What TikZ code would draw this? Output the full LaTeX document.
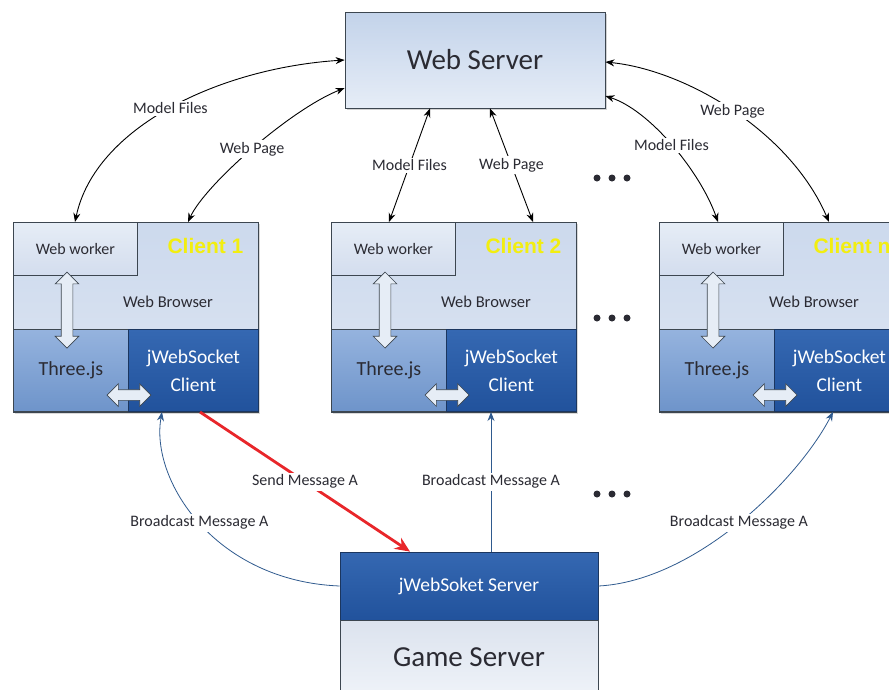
\documentclass[tikz,border=0pt]{standalone}
\usepackage{fontspec}
\setmainfont{Carlito}
\newfontfamily\clientfont{Liberation Sans}
\usetikzlibrary{arrows.meta,shapes.arrows,shadows}
\definecolor{boxline}{HTML}{3C4650}
\definecolor{darkline}{HTML}{1B365F}
\definecolor{textgray}{HTML}{2B2B33}
\definecolor{msgblue}{HTML}{2F5A8E}
\definecolor{msgred}{HTML}{E8262A}
\definecolor{clientyellow}{HTML}{F2EE10}
\definecolor{servertop}{HTML}{C3D3EA}
\definecolor{serverbot}{HTML}{E6EDF7}
\definecolor{browsertop}{HTML}{CCD9ED}
\definecolor{browserbot}{HTML}{DEE6F2}
\definecolor{workertop}{HTML}{E6EDF6}
\definecolor{workerbot}{HTML}{D3DDEE}
\definecolor{threetop}{HTML}{95B3DE}
\definecolor{threebot}{HTML}{6E94CA}
\definecolor{sockettop}{HTML}{3568B2}
\definecolor{socketbot}{HTML}{21529C}
\definecolor{gametop}{HTML}{DCE3EE}
\definecolor{gamebot}{HTML}{EEF2F8}
\tikzstyle{serverbox}=[draw=boxline,line width=0.8pt,top color=servertop,
                       bottom color=serverbot,text=textgray,
                       drop shadow={shadow xshift=2pt,shadow yshift=-2pt,opacity=0.35},
                       font=\fontsize{29}{31}\selectfont]
\tikzstyle{browser}=[draw=boxline,line width=0.8pt,top color=browsertop,
                     bottom color=browserbot,
                     drop shadow={shadow xshift=2pt,shadow yshift=-2pt,opacity=0.3}]
\tikzstyle{worker}=[draw=boxline,line width=0.8pt,top color=workertop,
                    bottom color=workerbot,text=textgray,
                    font=\fontsize{16}{18}\selectfont]
\tikzstyle{threebox}=[draw=boxline,line width=0.8pt,top color=threetop,
                      bottom color=threebot,text=textgray,
                      font=\fontsize{20}{22}\selectfont]
\tikzstyle{socketbox}=[draw=darkline,line width=0.8pt,top color=sockettop,
                       bottom color=socketbot,text=white,align=center,
                       font=\fontsize{19.5}{28}\selectfont]
\tikzstyle{gamebox}=[draw=boxline,line width=0.8pt,top color=gametop,
                     bottom color=gamebot,text=textgray,
                     font=\fontsize{29}{31}\selectfont]
\tikzstyle{clientlabel}=[text=clientyellow,font=\clientfont\bfseries\fontsize{21}{23}\selectfont]
\tikzstyle{plain}=[text=textgray,font=\fontsize{16.5}{18}\selectfont]
\tikzstyle{fatarrow}=[double arrow,draw=boxline,line width=0.7pt,fill=workertop,
                      inner xsep=0pt,inner ysep=5.5pt,double arrow head extend=6pt]
\tikzstyle{lab}=[fill=white,inner sep=2pt,text=textgray,font=\fontsize{16}{18}\selectfont]
\tikzstyle{link}=[{Stealth[length=9pt,width=7pt]}-{Stealth[length=9pt,width=7pt]},line width=0.9pt]
\tikzstyle{bcast}=[-{Stealth[length=9pt,width=7pt]},draw=msgblue,line width=0.8pt]
\tikzstyle{send}=[-{Stealth[length=15pt,width=13pt]},draw=msgred,line width=2.8pt]

\begin{document}
\begin{tikzpicture}[x=1pt,y=-1pt]
  \useasboundingbox (0,0) rectangle (889,689);
  \clip (0,0) rectangle (889,689);
  \node (ws) at (475,60) [serverbox,minimum width=260pt,minimum height=96pt] {Web Server};
  \foreach \x/\n/\lab in {13/c1/Client 1,331/c2/Client 2,659/cn/Client n}{
    \node (\n) at (\x,222) [browser,anchor=north west,minimum width=245pt,minimum height=190pt] {};
    \node (\n-ww) at (\x,222) [worker,anchor=north west,minimum width=124pt,minimum height=53pt] {Web worker};
    \node (\n-js) at (\x,412) [threebox,anchor=south west,minimum width=115pt,minimum height=82pt] {Three.js};
    \node (\n-jws) at (\x+115,412) [socketbox,anchor=south west,minimum width=130pt,minimum height=82pt] {jWebSocket\\Client};
    \node (\n-lab) at (\x+151,246) [clientlabel,anchor=west] {\lab};
    \node (\n-wb) at (\x+155,302) [plain] {Web Browser};
    \node (\n-va) at (\x+54,310) [fatarrow,rotate=90,minimum height=76pt] {};
    \node (\n-ha) at (\x+116,395) [fatarrow,minimum height=44pt,inner ysep=5pt] {};
  }
  \node (jss) at (469,586) [socketbox,minimum width=258pt,minimum height=68pt,
                            font=\fontsize{19.5}{21}\selectfont] {jWebSoket Server};
  \node (gs) at (469,657) [gamebox,minimum width=258pt,minimum height=74pt] {Game Server};
  \foreach \y in {178,318,494}
    \foreach \dx in {-15,0,15}
      \fill[textgray] (612+\dx,\y) circle (3.5);
  \draw[link] ([xshift=62pt]c1.north west) .. controls +(20,-95) and +(-125,8) .. (ws.west)
    node[lab,pos=0.5] {Model Files};
  \draw[link] ([xshift=175pt]c1.north west) .. controls +(17,-37) and +(-55,22) .. ([yshift=-28pt]ws.west)
    node[lab,pos=0.5] {Web Page};
  \draw[link] ([xshift=58pt]c2.north west) -- ([xshift=-45pt]ws.south)
    node[lab,pos=0.5] {Model Files};
  \draw[link] ([xshift=202pt]c2.north west) -- ([xshift=15pt]ws.south)
    node[lab,pos=0.5] {Web Page};
  \draw[link] ([yshift=-36pt]ws.east) .. controls +(44,14) and +(-18,-51) .. ([xshift=59pt]cn.north west)
    node[lab,pos=0.5] {Model Files};
  \draw[link] ([yshift=-2pt]ws.east) .. controls +(80,8) and +(-39,-91) .. ([xshift=170pt]cn.north west)
    node[lab,pos=0.5] {Web Page};
  \draw[send] ([xshift=72pt]c1-jws.south west) -- ([xshift=-59pt]jss.north)
    node[lab,pos=0.5] {Send Message A};
  \draw[bcast] (jss.west) .. controls +(-125,-5) and +(-12,68) .. ([xshift=34pt]c1-jws.south west)
    node[lab,pos=0.5] {Broadcast Message A};
  \draw[bcast] ([xshift=22pt]jss.north) -- ([xshift=45pt]c2-jws.south west)
    node[lab,pos=0.5] {Broadcast Message A};
  \draw[bcast] (jss.east) .. controls +(97,-5) and +(-35,68) .. ([xshift=59pt]cn-jws.south west)
    node[lab,pos=0.5] {Broadcast Message A};
\end{tikzpicture}
\end{document}
